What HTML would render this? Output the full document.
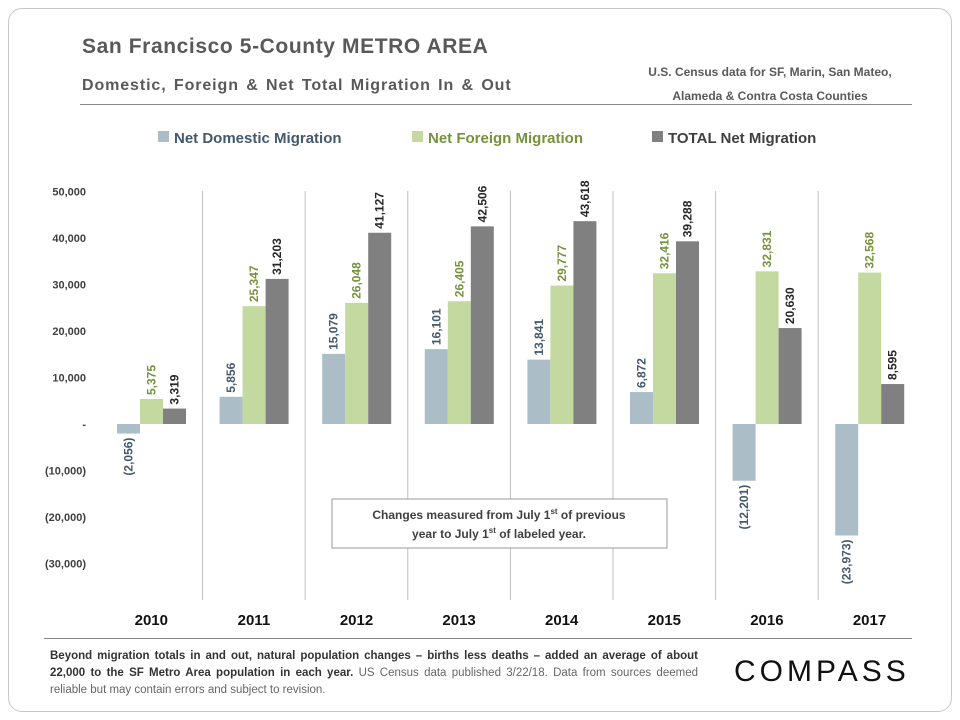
<!DOCTYPE html>
<html><head><meta charset="utf-8"><style>
body{margin:0;width:960px;height:720px;background:#fff;font-family:"Liberation Sans",sans-serif;overflow:hidden}
.frame{position:absolute;left:8px;top:8px;width:942px;height:702px;border:1px solid #c8c8c8;border-radius:14px}
.t{position:absolute;white-space:nowrap}
</style></head><body>
<div class="frame"></div>
<div class="t" style="left:82px;top:35px;font-size:21px;font-weight:bold;color:#595959;letter-spacing:0.6px">San Francisco 5-County METRO AREA</div>
<div class="t" style="left:82px;top:77px;font-size:16px;font-weight:bold;color:#595959;letter-spacing:0.9px;word-spacing:2px">Domestic, Foreign &amp; Net Total Migration In &amp; Out</div>
<div class="t" style="left:620px;top:60px;width:300px;text-align:center;font-size:12px;font-weight:bold;color:#595959;line-height:24px;white-space:normal">U.S. Census data for SF, Marin, San Mateo,<br>Alameda &amp; Contra Costa Counties</div>
<div style="position:absolute;left:80px;top:104px;width:832px;height:1px;background:#888"></div>
<div style="position:absolute;left:44px;top:638px;width:868px;height:1px;background:#888"></div>
<div class="t" style="left:50px;top:648px;font-size:11.5px;line-height:17px;color:#333;white-space:normal;width:648px;text-align:justify"><b>Beyond migration totals in and out, natural population changes – births less deaths – added an average of about 22,000 to the SF Metro Area population in each year.</b> <span style="color:#666">US Census data published 3/22/18. Data from sources deemed reliable but may contain errors and subject to revision.</span></div>
<div class="t" style="left:734px;top:655px;font-size:30px;letter-spacing:4px;color:#111">COMPASS</div>
<svg id="chart" width="960" height="720" style="position:absolute;left:0;top:0"></svg>
<script>
const years=["2010","2011","2012","2013","2014","2015","2016","2017"];
const domestic=[-2056,5856,15079,16101,13841,6872,-12201,-23973];
const foreign=[5375,25347,26048,26405,29777,32416,32831,32568];
const total=[3319,31203,41127,42506,43618,39288,20630,8595];
const yTicks=[50000,40000,30000,20000,10000,0,-10000,-20000,-30000];
const seriesNames=["Net Domestic Migration","Net Foreign Migration","TOTAL Net Migration"];
const NS="http://www.w3.org/2000/svg";
const svg=document.getElementById('chart');
const x0=100,gw=102.6,bw=23,boff=17;
function y(v){return 424-v*46.5/10000;}
function gx(i){return x0+i*gw;}
function fmt(v){const s=Math.abs(v).toLocaleString('en-US');return v<0?"("+s+")":(v===0?"-":s);}
function mk(t,a){const e=document.createElementNS(NS,t);for(const k in a)e.setAttribute(k,a[k]);svg.appendChild(e);return e;}
yTicks.forEach(v=>{const e=mk('text',{x:86,y:y(v)+4,'text-anchor':'end','font-size':11,'font-weight':'bold',fill:'#404040'});e.textContent=v===0?"-":fmt(v);

});
for(let i=1;i<years.length;i++){const l=mk('line',{x1:gx(i),x2:gx(i),y1:191,y2:600,stroke:'#bfbfbf','stroke-width':1});

}
const series=[domestic,foreign,total];
const cols=["#abbdc7","#c3d99f","#808080"];
const lcols=["#44596b","#76923c","#262626"];
const snames=["domestic","foreign","total"];
years.forEach((yr,i)=>{
 series.forEach((s,j)=>{
  const v=s[i],bx=gx(i)+boff+j*bw;
  const r=mk('rect',{x:bx,y:Math.min(y(v),y(0)),width:bw,height:Math.abs(y(v)-y(0)),fill:cols[j]});
  
  
  const cx=bx+bw/2+4;
  const ly=v>=0?y(v)-4:y(v)+4;
  const t=mk('text',{x:cx,y:ly,'font-size':12,'font-weight':'bold',fill:lcols[j],'text-anchor':v>=0?'start':'end',transform:`rotate(-90 ${cx} ${ly})`});
  t.textContent=fmt(v);
  
  
 });
 const t=mk('text',{x:gx(i)+gw/2,y:625,'text-anchor':'middle','font-size':15,'font-weight':'bold',fill:'#111'});
 t.textContent=yr;
 
 
});
const lx=[158,412,652];
seriesNames.forEach((n,j)=>{
 const r=mk('rect',{x:lx[j],y:131,width:11,height:11,fill:cols[j]});
 
 
 const t=mk('text',{x:lx[j]+16,y:143,'font-size':15,'font-weight':'bold',fill:lcols[j]==="#262626"?"#404040":lcols[j]});
 t.textContent=n;
 
 
});
const bx=mk('rect',{x:332,y:499,width:335,height:49,fill:'#fff',stroke:'#999','stroke-width':1});


const a1=mk('text',{x:499,y:519,'text-anchor':'middle','font-size':12,'font-weight':'bold',fill:'#404040'});
a1.innerHTML='Changes measured from July 1<tspan font-size="8" dy="-5">st</tspan><tspan dy="5"> of previous</tspan>';


const a2=mk('text',{x:499,y:538,'text-anchor':'middle','font-size':12,'font-weight':'bold',fill:'#404040'});
a2.innerHTML='year to July 1<tspan font-size="8" dy="-5">st</tspan><tspan dy="5"> of labeled year.</tspan>';


</script>
</body></html>
